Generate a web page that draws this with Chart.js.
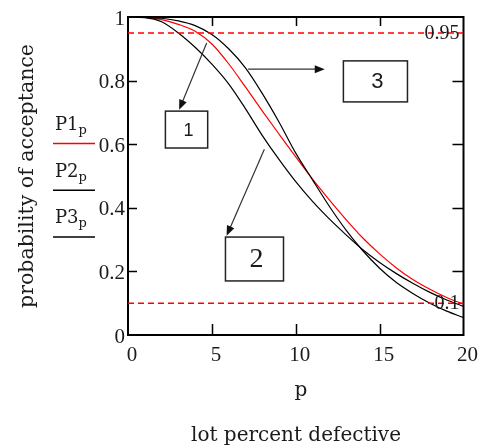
<!DOCTYPE html>
<html>
<head>
<meta charset="utf-8">
<script src="https://cdn.jsdelivr.net/npm/chart.js@4.4.0/dist/chart.umd.min.js"></script>
<style>
  html, body { margin: 0; padding: 0; background: #fff; }
  #wrap { width: 482px; height: 447px; }
</style>
</head>
<body>
<div id="wrap"><canvas id="oc"></canvas></div>
<script>
// lot percent defective (x) and acceptance probability of the three plans
const pValues = [0, 1, 2, 3, 4, 5, 6, 7, 8, 9, 10, 11, 12, 13, 14, 15, 16, 17, 18, 19, 20];
const P1 = [1, 0.999, 0.992, 0.977, 0.955, 0.915, 0.853, 0.78, 0.705, 0.632, 0.56, 0.49, 0.425, 0.363, 0.305, 0.255, 0.211, 0.174, 0.144, 0.118, 0.097];
const P2 = [1, 0.998, 0.985, 0.95, 0.905, 0.852, 0.79, 0.712, 0.628, 0.552, 0.482, 0.42, 0.365, 0.315, 0.268, 0.228, 0.193, 0.162, 0.134, 0.11, 0.09];
const P3 = [1, 0.999, 0.996, 0.988, 0.973, 0.945, 0.9, 0.84, 0.76, 0.67, 0.572, 0.488, 0.405, 0.33, 0.265, 0.21, 0.165, 0.13, 0.1, 0.075, 0.055];
const limitLevels = [0.95, 0.1];
const limitLabels = ['0.95', '0.1'];
const legendNames = ['P1', 'P2', 'P3'];
const legendColors = ['#ff0000', '#000000', '#000000'];
// callout boxes and arrows, in data units (p, Pa)
const boxes = [
  { txt: '1', x0: 2.23, x1: 4.75, y0: 0.588, y1: 0.704, font: '18px "Liberation Sans"' },
  { txt: '2', x0: 5.81, x1: 9.27, y0: 0.170, y1: 0.308, font: '28px "Liberation Serif"' },
  { txt: '3', x0: 12.84, x1: 16.66, y0: 0.733, y1: 0.862, font: '22px "Liberation Sans"' }
];
const arrows = [
  { from: [4.69, 0.918], to: [3.05, 0.708] },
  { from: [8.13, 0.584], to: [5.88, 0.312] },
  { from: [7.16, 0.836], to: [11.73, 0.836] }
];

const SERIF = '"Liberation Serif", "Times New Roman", serif';
const WIDE = '"DejaVu Serif", serif';
const INK = '#1b1b1b';

function pts(arr) { return pValues.map((p, i) => ({ x: p, y: arr[i] })); }
function flat(v) { return [{ x: 0, y: v }, { x: 20, y: v }]; }

const framePlugin = {
  id: 'frame',
  beforeDatasetsDraw(chart) {
    const { ctx, chartArea: a, scales: { x, y } } = chart;
    ctx.save();
    ctx.strokeStyle = '#000';
    ctx.lineWidth = 2;
    ctx.strokeRect(a.left, a.top, a.right - a.left, a.bottom - a.top);
    ctx.lineWidth = 1.5;
    ctx.beginPath();
    [0.2, 0.4, 0.6, 0.8].forEach(v => {
      const py = Math.round(y.getPixelForValue(v)) + 0.5;
      ctx.moveTo(a.left, py); ctx.lineTo(a.left + 9, py);
      ctx.moveTo(a.right, py); ctx.lineTo(a.right - 11, py);
    });
    [5, 10, 15].forEach(v => {
      const px = Math.round(x.getPixelForValue(v)) + 0.5;
      ctx.moveTo(px, a.bottom); ctx.lineTo(px, a.bottom - 11);
      ctx.moveTo(px, a.top); ctx.lineTo(px, a.top + 9);
    });
    ctx.stroke();
    ctx.restore();
  },
  afterDraw(chart) {
    const { ctx, chartArea: a, scales: { x, y } } = chart;
    ctx.save();
    ctx.fillStyle = INK;
    // limit labels at right end of dashed lines
    ctx.font = '20px ' + SERIF;
    ctx.textAlign = 'right';
    ctx.textBaseline = 'middle';
    limitLevels.forEach((v, i) => ctx.fillText(limitLabels[i], a.right - 4, y.getPixelForValue(v) + 1));

    // axis titles
    ctx.textAlign = 'center';
    ctx.textBaseline = 'alphabetic';
    ctx.font = '20px ' + WIDE;
    ctx.fillText('p', 301, 396);
    ctx.fillText('lot percent defective', 296, 441);
    ctx.save();
    ctx.translate(33, 176);
    ctx.rotate(-Math.PI / 2);
    ctx.font = '20.5px ' + WIDE;
    ctx.fillText('probability of acceptance', 0, 0);
    ctx.restore();

    // legend: name with subscript p, line underneath
    legendNames.forEach((n, i) => {
      const base = 130 + i * 46.7;
      ctx.textAlign = 'left';
      ctx.font = '18px ' + WIDE;
      ctx.fillStyle = INK;
      ctx.fillText(n, 55, base);
      const w = ctx.measureText(n).width;
      ctx.font = '13px ' + WIDE;
      ctx.fillText('p', 55 + w, base + 4);
      ctx.strokeStyle = legendColors[i];
      ctx.lineWidth = 1.5;
      ctx.beginPath();
      ctx.moveTo(53, base + 13.5);
      ctx.lineTo(95, base + 13.5);
      ctx.stroke();
    });

    // callout boxes
    boxes.forEach(b => {
      const l = x.getPixelForValue(b.x0), r = x.getPixelForValue(b.x1);
      const t = y.getPixelForValue(b.y1), btm = y.getPixelForValue(b.y0);
      ctx.strokeStyle = '#222';
      ctx.lineWidth = 1.5;
      ctx.strokeRect(l, t, r - l, btm - t);
      ctx.fillStyle = INK;
      ctx.font = b.font;
      ctx.textAlign = 'center';
      ctx.textBaseline = 'middle';
      ctx.fillText(b.txt, (l + r) / 2 + 2, (t + btm) / 2 + 1);
    });

    // arrows
    arrows.forEach(ar => {
      const x0 = x.getPixelForValue(ar.from[0]), y0 = y.getPixelForValue(ar.from[1]);
      const x1 = x.getPixelForValue(ar.to[0]), y1 = y.getPixelForValue(ar.to[1]);
      const ang = Math.atan2(y1 - y0, x1 - x0);
      ctx.strokeStyle = '#333';
      ctx.fillStyle = '#111';
      ctx.lineWidth = 1.2;
      ctx.beginPath();
      ctx.moveTo(x0, y0);
      ctx.lineTo(x1 - 6 * Math.cos(ang), y1 - 6 * Math.sin(ang));
      ctx.stroke();
      ctx.beginPath();
      ctx.moveTo(x1, y1);
      ctx.lineTo(x1 - 10 * Math.cos(ang) + 4 * Math.sin(ang), y1 - 10 * Math.sin(ang) - 4 * Math.cos(ang));
      ctx.lineTo(x1 - 10 * Math.cos(ang) - 4 * Math.sin(ang), y1 - 10 * Math.sin(ang) + 4 * Math.cos(ang));
      ctx.closePath();
      ctx.fill();
    });
    ctx.restore();
  }
};

const curve = (data, color) => ({
  data: pts(data), borderColor: color, borderWidth: 1.2, pointRadius: 0,
  cubicInterpolationMode: 'monotone', fill: false
});
const dashed = v => ({
  data: flat(v), borderColor: '#ff0000', borderWidth: 1.5, borderDash: [6, 4],
  pointRadius: 0, fill: false
});

new Chart(document.getElementById('oc'), {
  type: 'line',
  data: {
    datasets: [
      dashed(limitLevels[0]), dashed(limitLevels[1]),
      curve(P2, '#000000'), curve(P3, '#000000'), curve(P1, '#ff0000')
    ]
  },
  options: {
    responsive: true, maintainAspectRatio: false, animation: false,
    layout: { padding: { top: 17, right: 13, left: 0, bottom: 0 } },
    plugins: { legend: { display: false }, tooltip: { enabled: false } },
    scales: {
      x: {
        type: 'linear', min: 0, max: 20,
        ticks: { stepSize: 5, padding: 8, labelOffset: 4, color: INK, font: { family: SERIF, size: 21 } },
        grid: { display: false, drawTicks: false }, border: { display: false },
        afterFit: s => { s.height = 112; }
      },
      y: {
        min: 0, max: 1,
        ticks: {
          stepSize: 0.2, padding: 3, labelOffset: 2, color: INK, font: { family: SERIF, size: 21 },
          callback: v => String(Math.round(v * 10) / 10)
        },
        grid: { display: false, drawTicks: false }, border: { display: false },
        afterFit: s => { s.width = 128; }
      }
    }
  },
  plugins: [framePlugin]
});
</script>
</body>
</html>
